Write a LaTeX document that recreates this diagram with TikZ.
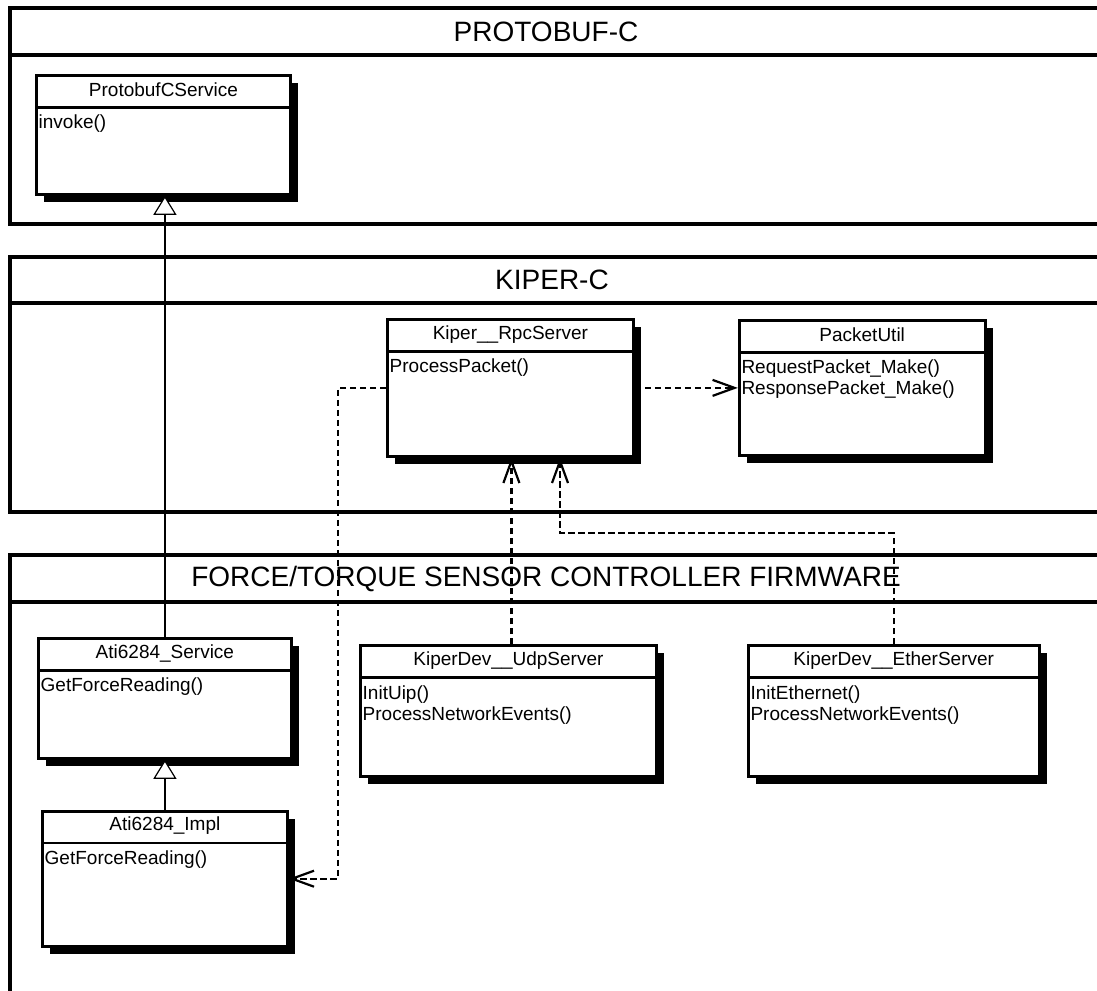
\documentclass[tikz,border=0pt]{standalone}
\usepackage{fontspec}
\setmainfont{Liberation Sans}
\usetikzlibrary{arrows.meta,positioning,shadows}

\begin{document}
\begin{tikzpicture}[
    x=1pt, y=-1pt,
    package/.style={line width=3.3pt},
    pkgtitle/.style={inner sep=0pt, font=\fontsize{28}{30}\selectfont},
    classbox/.style={
        rectangle,
        draw,
        line width=2.8pt,
        fill=white,
        anchor=north west,
        drop shadow={fill=black, opacity=1, shadow xshift=7.5pt, shadow yshift=-7.5pt},
        path picture={
            \draw[line width=2.4pt]
                ([yshift=-32pt]path picture bounding box.north west) --
                ([yshift=-32pt]path picture bounding box.north east);
        }
    },
    classname/.style={
        minimum height=32pt,
        inner sep=0pt,
        font=\fontsize{19}{20}\selectfont
    },
    methods/.style={
        inner sep=0pt,
        align=left,
        font=\fontsize{19}{21}\selectfont
    },
    inherit/.style={-{Triangle[open, length=19pt, width=23pt, fill=white]}, line width=1.2pt},
    depend/.style={-{Straight Barb[length=22pt, width=16pt]}, line width=2.2pt, dash pattern=on 6.5pt off 3.5pt}
]
    \useasboundingbox (0,0) rectangle (1097,990);
    \fill[white] (0,0) rectangle (1097,990);
    \clip (0,0) rectangle (1097,990);

    % packages
    \draw[package] (1120,8) -| (10,224) -- (1120,224);
    \draw[package] (10,55) -- (1120,55);
    \node[pkgtitle] (protobufTitle) at (546,31.5) {PROTOBUF-C};

    \draw[package] (1120,257) -| (10,512) -- (1120,512);
    \draw[package] (10,303) -- (1120,303);
    \node[pkgtitle] (kiperTitle) at (552,280) {KIPER-C};

    \draw[package] (1120,555) -| (10,1000);
    \draw[package] (10,602) -- (1120,602);
    \node[pkgtitle] (firmwareTitle) at (546,578.5) {FORCE/TORQUE SENSOR CONTROLLER FIRMWARE};

    % classes
    \node[classbox, minimum width=254pt, minimum height=119pt] (protoSvc) at (35,74) {};
    \node[classname, below=0pt of protoSvc.north] (protoSvcName) {ProtobufCService};
    \node[methods, below right=40.5pt and 3.5pt of protoSvc.north west] (protoSvcOps) {invoke()};

    \node[classbox, minimum width=246pt, minimum height=137pt] (rpcServer) at (386,318) {};
    \node[classname, below=0pt of rpcServer.north] (rpcServerName) {Kiper\_\_RpcServer};
    \node[methods, below right=40.5pt and 3.5pt of rpcServer.north west] (rpcServerOps) {ProcessPacket()};

    \node[classbox, minimum width=246pt, minimum height=135pt, right=103pt of rpcServer] (packetUtil) {};
    \node[classname, below=0pt of packetUtil.north] (packetUtilName) {PacketUtil};
    \node[methods, below right=40.5pt and 3.5pt of packetUtil.north west] (packetUtilOps)
        {RequestPacket\_Make()\\ResponsePacket\_Make()};

    \node[classbox, minimum width=253pt, minimum height=120pt] (atiService) at (37,637) {};
    \node[classname, below=0pt of atiService.north] (atiServiceName) {Ati6284\_Service};
    \node[methods, below right=40.5pt and 3.5pt of atiService.north west] (atiServiceOps) {GetForceReading()};

    \node[classbox, minimum width=245pt, minimum height=135pt, below=50pt of atiService] (atiImpl) {};
    \node[classname, below=0pt of atiImpl.north] (atiImplName) {Ati6284\_Impl};
    \node[methods, below right=40.5pt and 3.5pt of atiImpl.north west] (atiImplOps) {GetForceReading()};

    \node[classbox, minimum width=296pt, minimum height=131pt] (udpServer) at (359,644) {};
    \node[classname, below=0pt of udpServer.north] (udpServerName) {KiperDev\_\_UdpServer};
    \node[methods, below right=41.5pt and 3.5pt of udpServer.north west] (udpServerOps)
        {InitUip()\\ProcessNetworkEvents()};

    \node[classbox, minimum width=291pt, minimum height=131pt, right=89pt of udpServer] (etherServer) {};
    \node[classname, below=0pt of etherServer.north] (etherServerName) {KiperDev\_\_EtherServer};
    \node[methods, below right=41.5pt and 3.5pt of etherServer.north west] (etherServerOps)
        {InitEthernet()\\ProcessNetworkEvents()};

    % relations
    \coordinate (etherBend) at (560,533);
    \draw[inherit] (atiService.north) -- (atiService.north |- protoSvc.south);
    \draw[inherit] (atiImpl.north) -- (atiImpl.north |- atiService.south);
    \draw[depend] (rpcServer.east) -- (packetUtil.west |- rpcServer.east);
    \draw[depend] (rpcServer.west) -- ++(-48,0) |- (atiImpl.east);
    \draw[depend] ([xshift=3pt]udpServer.north) -- ([xshift=3pt]udpServer.north |- rpcServer.south);
    \draw[depend] (etherServer.north) |- (etherBend) -- (etherBend |- rpcServer.south);
\end{tikzpicture}
\end{document}
